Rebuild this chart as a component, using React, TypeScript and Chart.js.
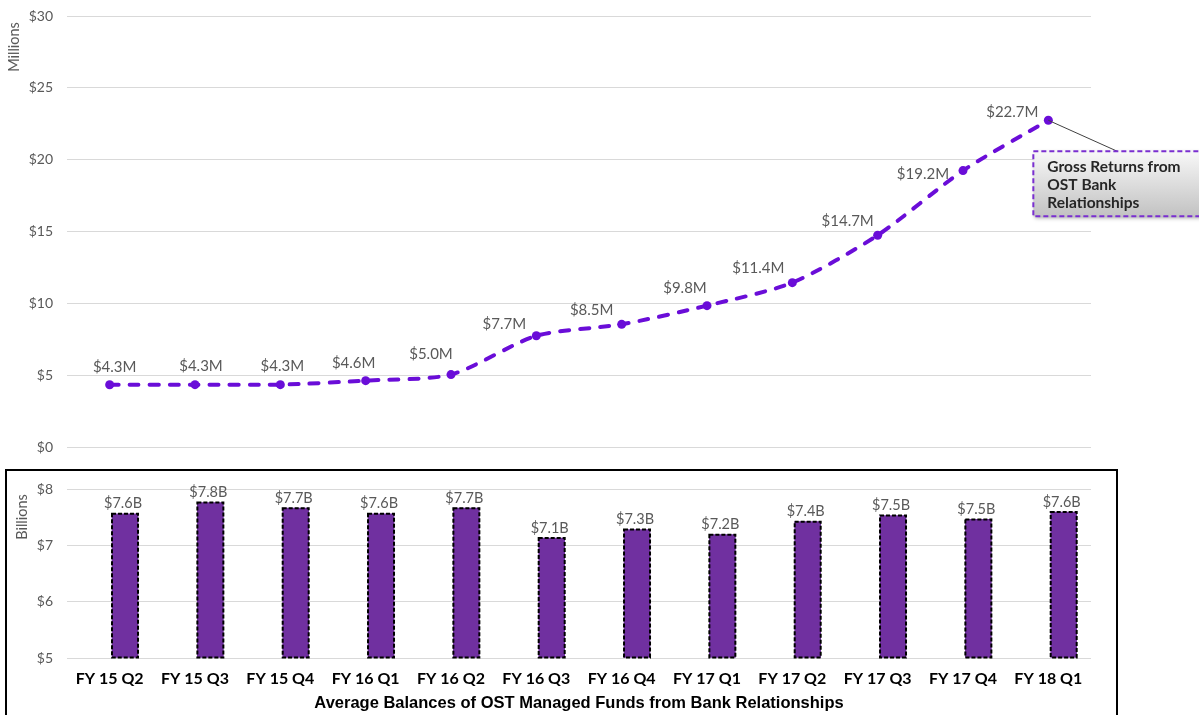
import React, { useEffect, useRef } from "react";
import { Chart, registerables } from "chart.js";

Chart.register(...registerables);

// Fiscal quarters shared by both panels
const QUARTERS = [
  "FY 15 Q2", "FY 15 Q3", "FY 15 Q4", "FY 16 Q1", "FY 16 Q2", "FY 16 Q3",
  "FY 16 Q4", "FY 17 Q1", "FY 17 Q2", "FY 17 Q3", "FY 17 Q4", "FY 18 Q1",
];

// Gross returns from OST bank relationships, $ millions
const GROSS_RETURNS_M = [4.33, 4.34, 4.34, 4.62, 5.04, 7.74, 8.54, 9.84, 11.44, 14.74, 19.24, 22.74];

// Average balances of OST managed funds, $ billions
const AVG_BALANCES_B = [7.56, 7.76, 7.66, 7.56, 7.66, 7.13, 7.28, 7.19, 7.42, 7.53, 7.46, 7.59];

// Axis tick values
const RETURN_TICKS = [0, 5, 10, 15, 20, 25, 30];
const BALANCE_TICKS = [5, 6, 7, 8];

// Where each returns label sits relative to its point: [dx, dy]
const RETURN_LABEL_OFFSETS: [number, number][] = [
  [5, -18], [6, -18], [2, -18], [-12, -17], [-20, -20], [-32, -12],
  [-30, -14], [-22, -17], [-34, -14], [-30, -14], [-40, 4], [-36, -8],
];

const CALLOUT_LINES = ["Gross Returns from", "OST Bank", "Relationships"];

const LINE_COLOR = "#6a0dd8";
const BAR_COLOR = "#7030A0";
const TICK_COLOR = "#595959";
const GRID_COLOR = "#d9d9d9";
const BODY_FONT = "Lato";

// Horizontal shift of the bars within each quarter's slot (fraction of a slot)
const BAR_SHIFT = 0.18;

const returnsDecor = {
  id: "returnsDecor",
  afterDatasetsDraw(chart: any) {
    const { ctx } = chart;
    const meta = chart.getDatasetMeta(0);
    const pts = meta.data;

    // callout for the latest quarter
    const last = pts[pts.length - 1];
    const bx = last.x - 15;
    const by = last.y + 31;
    const bw = 175;
    const bh = 65;
    ctx.save();
    ctx.strokeStyle = "#404040";
    ctx.lineWidth = 1;
    ctx.beginPath();
    ctx.moveTo(last.x, last.y);
    ctx.lineTo(last.x + 69, by);
    ctx.stroke();

    ctx.shadowColor = "rgba(0,0,0,0.35)";
    ctx.shadowBlur = 4;
    ctx.shadowOffsetX = 2;
    ctx.shadowOffsetY = 2;
    const grad = ctx.createLinearGradient(0, by, 0, by + bh);
    grad.addColorStop(0, "#f8f8f8");
    grad.addColorStop(1, "#c2c2c2");
    ctx.fillStyle = grad;
    ctx.fillRect(bx, by, bw, bh);
    ctx.shadowColor = "transparent";
    ctx.strokeStyle = "#7a2fd0";
    ctx.lineWidth = 2;
    ctx.setLineDash([5, 3]);
    ctx.strokeRect(bx, by, bw, bh);
    ctx.setLineDash([]);

    ctx.fillStyle = "#262626";
    ctx.font = `bold 15.5px ${BODY_FONT}`;
    ctx.textAlign = "left";
    ctx.textBaseline = "middle";
    CALLOUT_LINES.forEach((t, i) => ctx.fillText(t, bx + 14, by + 16 + i * 18));
    ctx.restore();

    // value labels
    ctx.save();
    ctx.font = `15px ${BODY_FONT}`;
    ctx.fillStyle = TICK_COLOR;
    ctx.textAlign = "center";
    ctx.textBaseline = "middle";
    pts.forEach((p: any, i: number) => {
      const [dx, dy] = RETURN_LABEL_OFFSETS[i];
      ctx.fillText(`$${GROSS_RETURNS_M[i].toFixed(1)}M`, p.x + dx, p.y + dy);
    });

    // axis unit
    ctx.font = `14.5px ${BODY_FONT}`;
    ctx.translate(14, 47);
    ctx.rotate(-Math.PI / 2);
    ctx.fillText("Millions", 0, 0);
    ctx.restore();
  },
};

const balancesDecor = {
  id: "balancesDecor",
  afterDatasetsDraw(chart: any) {
    const { ctx } = chart;
    const meta = chart.getDatasetMeta(0);
    ctx.save();
    ctx.strokeStyle = "#000";
    ctx.lineWidth = 2;
    ctx.setLineDash([4, 2]);
    meta.data.forEach((el: any) => {
      const { x, y, base, width } = el.getProps(["x", "y", "base", "width"], true);
      ctx.strokeRect(x - width / 2, y, width, base - y);
    });
    ctx.setLineDash([]);

    ctx.font = `14.5px ${BODY_FONT}`;
    ctx.fillStyle = TICK_COLOR;
    ctx.textAlign = "center";
    ctx.textBaseline = "middle";
    meta.data.forEach((el: any, i: number) => {
      ctx.fillText(`$${AVG_BALANCES_B[i].toFixed(1)}B`, el.x - 2, el.y - 10);
    });

    ctx.translate(22, 517 - 468);
    ctx.rotate(-Math.PI / 2);
    ctx.fillText("Billions", 0, 0);
    ctx.restore();
  },
};

// y axis styling shared by both panels: labels sit 14px left of the plot
const valueAxisGrid = {
  color: GRID_COLOR,
  lineWidth: 1,
  drawTicks: true,
  tickLength: 14,
  tickColor: "transparent",
};

export default function App() {
  const topRef = useRef<HTMLCanvasElement>(null);
  const botRef = useRef<HTMLCanvasElement>(null);

  useEffect(() => {
    Chart.defaults.font.family = BODY_FONT;

    const top = new Chart(topRef.current!, {
      type: "line",
      data: {
        labels: QUARTERS,
        datasets: [
          {
            data: GROSS_RETURNS_M,
            borderColor: LINE_COLOR,
            backgroundColor: LINE_COLOR,
            borderWidth: 4,
            borderDash: [9, 11],
            borderCapStyle: "round",
            tension: 0.25,
            pointRadius: 4.5,
            pointBorderWidth: 0,
            pointBackgroundColor: LINE_COLOR,
            fill: false,
          },
        ],
      },
      options: {
        animation: false,
        responsive: false,
        maintainAspectRatio: false,
        layout: { autoPadding: false, padding: { top: 16, bottom: 13, right: 108, left: 0 } },
        plugins: { legend: { display: false }, tooltip: { enabled: false } },
        scales: {
          x: { type: "category", display: false, offset: true },
          y: {
            min: 0,
            max: 30,
            afterBuildTicks: (s: any) => { s.ticks = RETURN_TICKS.map((v) => ({ value: v })); },
            afterFit: (s: any) => { s.width = 67; },
            border: { display: false },
            grid: valueAxisGrid,
            ticks: {
              padding: 0,
              color: TICK_COLOR,
              font: { size: 14, family: BODY_FONT },
              callback: (v: any) => `$${v}`,
            },
          },
        },
      },
      plugins: [returnsDecor],
    });

    const bot = new Chart(botRef.current!, {
      type: "bar",
      data: {
        labels: QUARTERS,
        datasets: [
          {
            data: AVG_BALANCES_B.map((v, i) => ({ x: i, y: v })),
            xAxisID: "x2",
            base: 5,
            backgroundColor: BAR_COLOR,
            borderWidth: 0,
            barThickness: 26,
          },
        ],
      },
      options: {
        animation: false,
        responsive: false,
        maintainAspectRatio: false,
        layout: { autoPadding: false, padding: { top: 21, bottom: 0, right: 108, left: 0 } },
        plugins: { legend: { display: false }, tooltip: { enabled: false } },
        scales: {
          x: {
            type: "category",
            offset: true,
            afterFit: (s: any) => { s.height = 57; },
            border: { display: false },
            grid: { display: false, drawTicks: false },
            ticks: {
              padding: 11,
              color: "#000",
              font: { size: 16, weight: "bold", family: BODY_FONT },
            },
            title: {
              display: true,
              text: "Average Balances of OST Managed Funds from Bank Relationships",
              color: "#000",
              font: { size: 16.5, weight: "bold", family: "Liberation Sans" },
              padding: { top: 0, bottom: 2 },
            },
          },
          x2: {
            type: "linear",
            display: false,
            offset: false,
            grid: { offset: false },
            min: -0.5 - BAR_SHIFT,
            max: QUARTERS.length - 0.5 - BAR_SHIFT,
          },
          y: {
            min: 5,
            max: 8,
            afterBuildTicks: (s: any) => { s.ticks = BALANCE_TICKS.map((v) => ({ value: v })); },
            afterFit: (s: any) => { s.width = 67; },
            border: { display: false },
            grid: valueAxisGrid,
            ticks: {
              padding: 0,
              color: TICK_COLOR,
              font: { size: 14, family: BODY_FONT },
              callback: (v: any) => `$${v}`,
            },
          },
        },
      },
      plugins: [balancesDecor],
    });

    return () => {
      top.destroy();
      bot.destroy();
    };
  }, []);

  return (
    <div
      style={{
        position: "absolute",
        left: 0,
        top: 0,
        width: 1199,
        height: 715,
        overflow: "hidden",
        background: "#fff",
      }}
    >
      <canvas
        ref={topRef}
        width={1199}
        height={460}
        style={{ position: "absolute", left: 0, top: 0, width: 1199, height: 460 }}
      />
      <div
        style={{
          position: "absolute",
          left: 5,
          top: 469,
          width: 1113,
          height: 260,
          border: "2px solid #000",
          boxSizing: "border-box",
        }}
      />
      <canvas
        ref={botRef}
        width={1199}
        height={247}
        style={{ position: "absolute", left: 0, top: 468, width: 1199, height: 247 }}
      />
    </div>
  );
}
